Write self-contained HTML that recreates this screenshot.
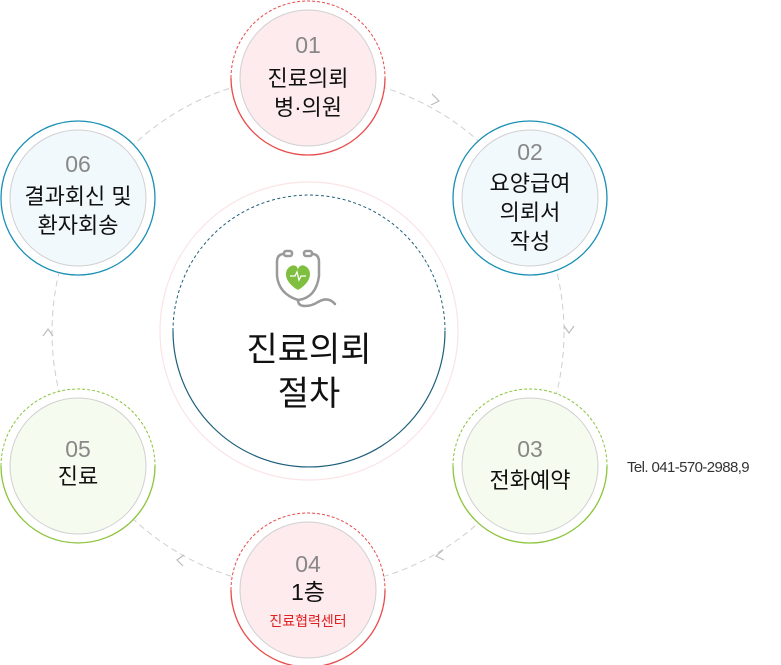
<!DOCTYPE html>
<html><head><meta charset="utf-8"><style>
html,body{margin:0;padding:0;background:#fff;width:781px;height:665px;overflow:hidden}
svg{display:block}
text{font-family:"Liberation Sans","Noto Sans CJK KR",sans-serif}
.n{fill:#888;font-size:23px}
.t{fill:#111;font-size:22px}
</style></head><body>
<svg width="781" height="665" viewBox="0 0 781 665" xmlns="http://www.w3.org/2000/svg">
<circle cx="308" cy="332" r="256" fill="none" stroke="#cfcfcf" stroke-width="1" stroke-dasharray="6 4"/>
<g fill="none" stroke="#bdbdbd" stroke-width="1.2">
<polyline points="432,94 439,101 431,105"/>
<polyline points="564,326 569,333 574,326"/>
<polyline points="443,550 436,556 444,560"/>
<polyline points="184,555 177,560 183,566"/>
<polyline points="43,336 48,329 53,336"/>
</g>
<circle cx="309" cy="331" r="149" fill="#fff" stroke="#fbe3e6" stroke-width="1.2"/>
<path d="M173,331 A136,136 0 0 1 445,331" fill="none" stroke="#1d5f7a" stroke-width="1" stroke-dasharray="3 2.5"/>
<path d="M173,331 A136,136 0 0 0 445,331" fill="none" stroke="#1d5f7a" stroke-width="1.2"/>
<g fill="none" stroke="#9a9a9a" stroke-width="2.5" stroke-linecap="round">
<path d="M284,254 Q277,254 277,262 L277,276 Q279,294 298,300 Q316,298 319,276 L319,262 Q319,254 312,254"/>
<rect x="284" y="251" width="8" height="5" rx="2"/><rect x="304" y="251" width="8" height="5" rx="2"/>
<path d="M298,300 Q298,306 305,306 Q312,306 318,302 Q328,296 335,304"/>
</g>
<path d="M298,290 C284,282 283,270 291,266 C295,264 298,267 298,270 C298,267 301,264 305,266 C313,270 312,282 298,290Z" fill="#7fbf3f"/>
<polyline points="290,276 295,276 297,272 299,280 301,276 306,276" fill="none" stroke="#fff" stroke-width="1.3"/>
<text x="309" y="361" text-anchor="middle" style="font-size:34px" fill="#111">진료의뢰</text>
<text x="309" y="405" text-anchor="middle" style="font-size:34px" fill="#111">절차</text>

<g>
<path d="M231,78 A77,77 0 0 1 385,78" fill="#fff" stroke="#e84a4a" stroke-width="1" stroke-dasharray="3 2"/>
<path d="M231,78 A77,77 0 0 0 385,78" fill="#fff" stroke="#e84a4a" stroke-width="1.3"/>
<circle cx="308" cy="78" r="68" fill="#fdebee" stroke="#d0d0d0" stroke-width="1"/>
<text class="n" x="308" y="53" text-anchor="middle">01</text>
<text class="t" x="308" y="86" text-anchor="middle">진료의뢰</text>
<text class="t" x="308" y="115" text-anchor="middle">병·의원</text>
</g>
<g>
<circle cx="530" cy="198" r="77" fill="#fff" stroke="#1a8fb5" stroke-width="1.3"/>
<circle cx="530" cy="198" r="68" fill="#f1f9fd" stroke="#d0d0d0" stroke-width="1"/>
<text class="n" x="530" y="160" text-anchor="middle">02</text>
<text class="t" x="530" y="191" text-anchor="middle">요양급여</text>
<text class="t" x="530" y="220" text-anchor="middle">의뢰서</text>
<text class="t" x="530" y="249" text-anchor="middle">작성</text>
</g>
<g>
<path d="M453,466 A77,77 0 0 1 607,466" fill="#fff" stroke="#8cc43c" stroke-width="1" stroke-dasharray="3 2"/>
<path d="M453,466 A77,77 0 0 0 607,466" fill="#fff" stroke="#8cc43c" stroke-width="1.3"/>
<circle cx="530" cy="466" r="68" fill="#f6fbef" stroke="#d0d0d0" stroke-width="1"/>
<text class="n" x="530" y="457" text-anchor="middle">03</text>
<text class="t" x="530" y="488" text-anchor="middle">전화예약</text>
</g>
<text x="627" y="472" style="font-size:15px;letter-spacing:-0.6px" fill="#333">Tel. 041-570-2988,9</text>
<g>
<path d="M231,590 A77,77 0 0 1 385,590" fill="#fff" stroke="#e84a4a" stroke-width="1" stroke-dasharray="3 2"/>
<path d="M231,590 A77,77 0 0 0 385,590" fill="#fff" stroke="#e84a4a" stroke-width="1.3"/>
<circle cx="308" cy="590" r="68" fill="#fdebee" stroke="#d0d0d0" stroke-width="1"/>
<text class="n" x="308" y="572" text-anchor="middle">04</text>
<text class="t" x="308" y="600" text-anchor="middle" style="font-size:23px">1층</text>
<text x="308" y="626" text-anchor="middle" style="font-size:14px" fill="#e02020">진료협력센터</text>
</g>
<g>
<path d="M1,466 A77,77 0 0 1 155,466" fill="#fff" stroke="#8cc43c" stroke-width="1" stroke-dasharray="3 2"/>
<path d="M1,466 A77,77 0 0 0 155,466" fill="#fff" stroke="#8cc43c" stroke-width="1.3"/>
<circle cx="78" cy="466" r="68" fill="#f6fbef" stroke="#d0d0d0" stroke-width="1"/>
<text class="n" x="78" y="457" text-anchor="middle">05</text>
<text class="t" x="78" y="484" text-anchor="middle">진료</text>
</g>
<g>
<circle cx="78" cy="198" r="77" fill="#fff" stroke="#1a8fb5" stroke-width="1.3"/>
<circle cx="78" cy="198" r="68" fill="#f1f9fd" stroke="#d0d0d0" stroke-width="1"/>
<text class="n" x="78" y="172" text-anchor="middle">06</text>
<text class="t" x="78" y="204" text-anchor="middle">결과회신 및</text>
<text class="t" x="78" y="233" text-anchor="middle">환자회송</text>
</g>
</svg>
</body></html>
